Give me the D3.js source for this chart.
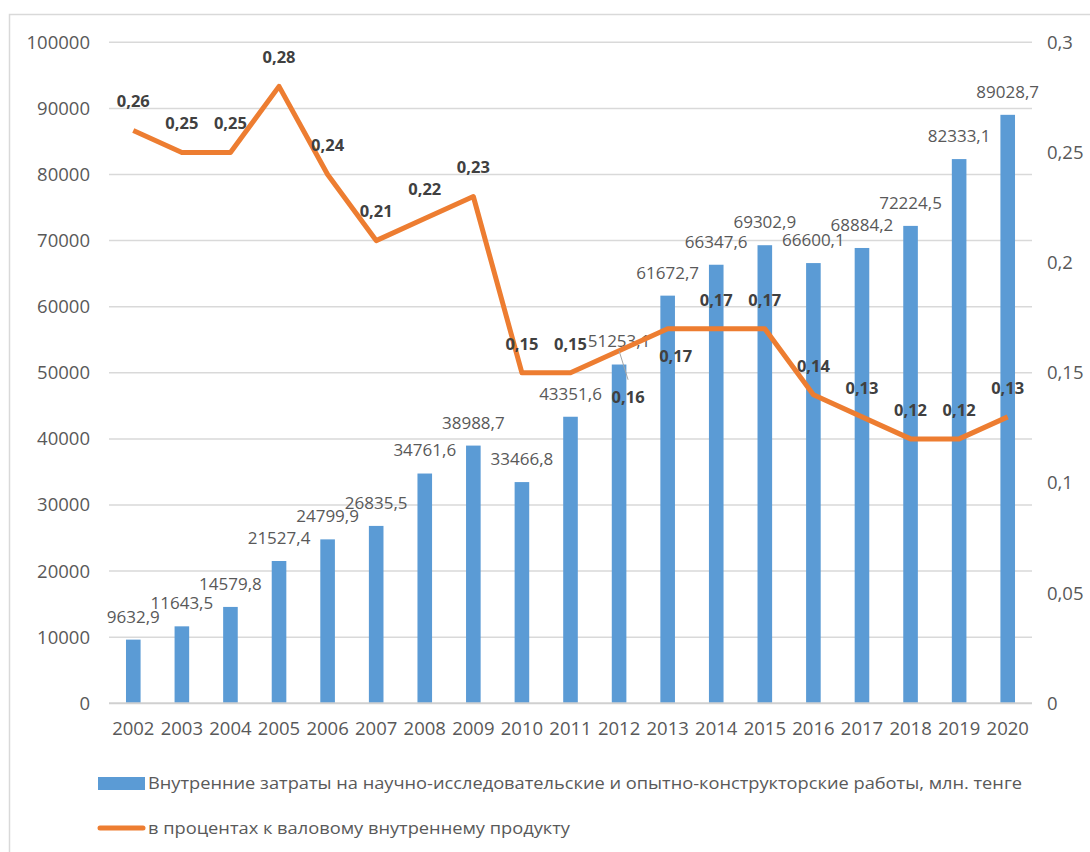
<!DOCTYPE html>
<html>
<head>
<meta charset="utf-8">
<title>R&D chart</title>
<script src="https://cdn.jsdelivr.net/npm/d3@7"></script>
<style>
  body { margin: 0; background: #fff; }
  text { font-family: "Open Sans", sans-serif; }
</style>
</head>
<body>
<svg width="1090" height="852"></svg>
<script>
// data
var years = ["2002","2003","2004","2005","2006","2007","2008","2009","2010","2011",
             "2012","2013","2014","2015","2016","2017","2018","2019","2020"];
var spending = [9632.9, 11643.5, 14579.8, 21527.4, 24799.9, 26835.5, 34761.6, 38988.7, 33466.8,
                43351.6, 51253.1, 61672.7, 66347.6, 69302.9, 66600.1, 68884.2, 72224.5, 82333.1, 89028.7];
var gdpShare = [0.26, 0.25, 0.25, 0.28, 0.24, 0.21, 0.22, 0.23, 0.15, 0.15,
                0.16, 0.17, 0.17, 0.17, 0.14, 0.13, 0.12, 0.12, 0.13];
var leftTicks = [0, 10000, 20000, 30000, 40000, 50000, 60000, 70000, 80000, 90000, 100000];
var rightTicks = [0, 0.05, 0.1, 0.15, 0.2, 0.25, 0.3];
var legendNames = ["Внутренние затраты на научно-исследовательские и опытно-конструкторские работы, млн. тенге",
                   "в процентах к валовому внутреннему продукту"];

var blue = "#5b9bd5", orange = "#ed7d31", grey = "#595959";
var svg = d3.select("svg");

// chart frame
svg.append("rect")
  .attr("x", 9.5).attr("y", 14.5)
  .attr("width", 1200).attr("height", 1000)
  .attr("fill", "none").attr("stroke", "#d9d9d9").attr("stroke-width", 1.5);

// plot area edges (not "top": that name is taken by window.top)
var plotL = 109, plotR = 1032, plotT = 42.3, plotB = 703.3;

var x = d3.scaleBand().domain(years).range([plotL, plotR]).padding(0);
var yL = d3.scaleLinear().domain([0, 100000]).range([plotB, plotT]);
var yR = d3.scaleLinear().domain([0, 0.3]).range([plotB, plotT]);
var cx = function(d) { return x(d) + x.bandwidth() / 2; };
var comma = function(s) { return s.replace(".", ","); };

// gridlines
svg.append("g").selectAll("line")
  .data(leftTicks.filter(function(d) { return d > 0; }))
  .enter().append("line")
  .attr("x1", plotL).attr("x2", plotR)
  .attr("y1", function(d) { return yL(d); })
  .attr("y2", function(d) { return yL(d); })
  .attr("stroke", "#d9d9d9").attr("stroke-width", 1.5);

// left axis
var axL = svg.append("g").attr("transform", "translate(" + plotL + ",0)")
  .call(d3.axisLeft(yL).tickValues(leftTicks).tickSize(0).tickPadding(19).tickFormat(d3.format("d")));
axL.select(".domain").remove();
axL.selectAll("text").attr("fill", grey).attr("font-size", 18.5).attr("font-family", "Open Sans");

// right axis
var axR = svg.append("g").attr("transform", "translate(" + plotR + ",0)")
  .call(d3.axisRight(yR).tickValues(rightTicks).tickSize(0).tickPadding(15)
    .tickFormat(function(d) { return comma(String(+d.toFixed(2))); }));
axR.select(".domain").remove();
axR.selectAll("text").attr("fill", grey).attr("font-size", 18.5).attr("font-family", "Open Sans");

// bars
svg.append("g").selectAll("rect")
  .data(years)
  .enter().append("rect")
  .attr("x", function(d) { return cx(d) - 7.3; })
  .attr("width", 14.6)
  .attr("y", function(d, i) { return yL(spending[i]); })
  .attr("height", function(d, i) { return plotB - yL(spending[i]); })
  .attr("fill", blue);

// baseline
svg.append("line")
  .attr("x1", plotL).attr("x2", plotR)
  .attr("y1", plotB).attr("y2", plotB)
  .attr("stroke", "#d0d0d0").attr("stroke-width", 2);

// x axis labels
var axB = svg.append("g").attr("transform", "translate(0," + plotB + ")")
  .call(d3.axisBottom(x).tickSize(0).tickPadding(19));
axB.select(".domain").remove();
axB.selectAll("text").attr("fill", grey).attr("font-size", 18.5).attr("font-family", "Open Sans");

// bar labels
svg.append("g").selectAll("text")
  .data(years)
  .enter().append("text")
  .attr("x", function(d) { return cx(d); })
  .attr("y", function(d, i) { return yL(spending[i]) - 23; })
  .attr("dy", "0.35em")
  .attr("text-anchor", "middle")
  .attr("font-size", 17)
  .attr("fill", grey)
  .text(function(d, i) { return comma(d3.format(".1f")(spending[i])); });

// line
var line = d3.line()
  .x(function(d, i) { return cx(years[i]); })
  .y(function(d) { return yR(d); });
svg.append("path")
  .datum(gdpShare)
  .attr("d", line)
  .attr("fill", "none")
  .attr("stroke", orange)
  .attr("stroke-width", 5)
  .attr("stroke-linejoin", "round");

// line labels: above the point, a couple moved by excel
var moved = { "2012": [9, 46], "2013": [8, 27] };
var lbl = svg.append("g");
years.forEach(function(yr, i) {
  var px = cx(yr), py = yR(gdpShare[i]);
  var off = moved[yr] || [0, -29];
  if (yr === "2012") {
    lbl.append("line")
      .attr("x1", px).attr("y1", py)
      .attr("x2", px + off[0]).attr("y2", py + off[1] - 17)
      .attr("stroke", "#a6a6a6").attr("stroke-width", 1);
  }
  lbl.append("text")
    .attr("x", px + off[0])
    .attr("y", py + off[1])
    .attr("dy", "0.35em")
    .attr("text-anchor", "middle")
    .attr("font-size", 16.5)
    .attr("font-weight", "bold")
    .attr("fill", "#404040")
    .text(comma(d3.format(".2f")(gdpShare[i])));
});

// legend
var lg = svg.append("g");
lg.append("rect").attr("x", 98).attr("y", 777).attr("width", 47).attr("height", 13).attr("fill", blue);
lg.append("line").attr("x1", 100).attr("x2", 143).attr("y1", 828).attr("y2", 828)
  .attr("stroke", orange).attr("stroke-width", 5).attr("stroke-linecap", "round");
lg.selectAll("text.leg")
  .data(legendNames)
  .enter().append("text")
  .attr("class", "leg")
  .attr("x", 148)
  .attr("y", function(d, i) { return i === 0 ? 783 : 828; })
  .attr("dy", "0.35em")
  .attr("font-size", 17)
  .attr("fill", grey)
  .attr("textLength", function(d, i) { return i === 0 ? 874 : 422; })
  .attr("lengthAdjust", "spacingAndGlyphs")
  .text(function(d) { return d; });
</script>
</body>
</html>
